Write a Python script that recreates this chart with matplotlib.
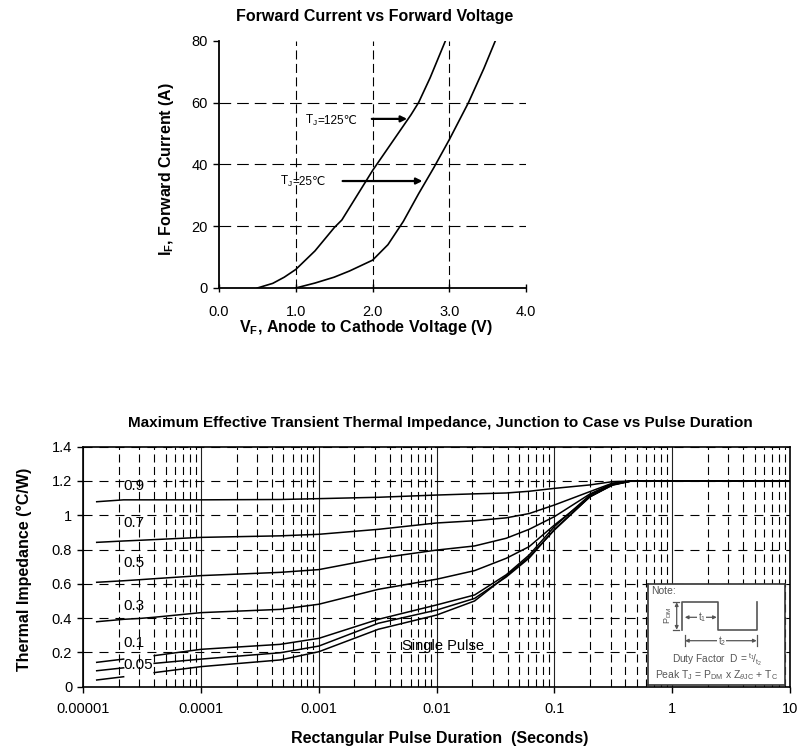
import numpy as np
import matplotlib
matplotlib.use('Agg')
import matplotlib.pyplot as plt
from matplotlib.ticker import FixedLocator, FixedFormatter, LogLocator, NullFormatter

plt.rcParams['font.family'] = ['Liberation Sans', 'DejaVu Sans']
plt.rcParams['mathtext.fontset'] = 'custom'
plt.rcParams['mathtext.rm'] = 'Liberation Sans'
plt.rcParams['mathtext.it'] = 'Liberation Sans:italic'
plt.rcParams['mathtext.bf'] = 'Liberation Sans:bold'
plt.rcParams['lines.scale_dashes'] = False

# ---------------- Top chart data: Forward current vs forward voltage ----------------
v_125 = [0.5, 0.7, 0.85, 1.0, 1.25, 1.5, 1.6, 1.75, 2.0, 2.25, 2.5, 2.6, 2.75, 2.95]
i_125 = [0, 1.5, 3.5, 6, 12, 19.5, 22, 28, 38, 47, 56, 60, 68, 80]
v_25 = [1.0, 1.25, 1.5, 1.7, 2.0, 2.2, 2.4, 2.6, 2.8, 3.0, 3.25, 3.45, 3.6]
i_25 = [0, 1.6, 3.5, 5.5, 9, 14, 21.5, 30.5, 39, 48, 60, 71, 80]
vf_ticks = [0, 1, 2, 3, 4]
vf_ticklabels = ['0.0', '1.0', '2.0', '3.0', '4.0']
if_ticks = [0, 20, 40, 60, 80]
temp_labels = ['=125℃', '=25℃']
text_pos = [(1.12, 53.2), (0.79, 33.3)]
arrows = [((1.99, 54.7), (2.45, 54.7)), ((1.61, 34.6), (2.65, 34.6))]

# ---------------- Bottom chart data: transient thermal impedance ----------------
pulse_t = [1.3e-5, 2.2e-5, 3e-5, 4e-5, 1e-4, 4.7e-4, 1e-3, 3.2e-3, 1e-2, 2.1e-2,
           3.9e-2, 6.1e-2, 0.1, 0.2, 0.31, 0.45, 1, 10]
z_d09 = [1.079, 1.09, 1.09, 1.09, 1.09, 1.092, 1.097, 1.105, 1.118, 1.125,
         1.13, 1.14, 1.157, 1.177, 1.196, 1.2, 1.2, 1.2]
z_d07 = [0.842, 0.85, 0.854, 0.858, 0.871, 0.88, 0.889, 0.918, 0.955, 0.968,
         0.985, 1.01, 1.06, 1.138, 1.187, 1.2, 1.2, 1.2]
z_d05 = [0.609, 0.618, 0.624, 0.63, 0.648, 0.667, 0.683, 0.749, 0.797, 0.821,
         0.866, 0.918, 0.992, 1.124, 1.185, 1.2, 1.2, 1.2]
z_d03 = [0.379, 0.393, 0.398, 0.405, 0.432, 0.451, 0.481, 0.568, 0.627, 0.677,
         0.749, 0.817, 0.943, 1.108, 1.178, 1.2, 1.2, 1.2]
z_d01 = [0.142, 0.161, np.nan, 0.181, 0.218, 0.247, 0.282, 0.393, 0.477, 0.535,
         0.653, 0.768, 0.934, 1.118, 1.18, 1.2, 1.2, 1.2]
z_d005 = [0.093, 0.11, np.nan, 0.136, 0.161, 0.198, 0.237, 0.37, 0.447, 0.515,
          0.64, 0.75, 0.918, 1.108, 1.178, 1.2, 1.2, 1.2]
z_single = [0.039, 0.058, np.nan, 0.082, 0.117, 0.156, 0.204, 0.335, 0.418, 0.50,
            0.646, 0.757, 0.914, 1.108, 1.175, 1.2, 1.2, 1.2]
duty_labels = ['0.9', '0.7', '0.5', '0.3', '0.1', '0.05']
duty_label_y = [1.17, 0.955, 0.724, 0.47, 0.253, 0.127]
duty_label_x = 2.2e-5
single_label = 'Single Pulse'
single_label_pos = (0.0051, 0.239)
t_ticks = [1e-5, 1e-4, 1e-3, 1e-2, 1e-1, 1, 10]
t_ticklabels = ['0.00001', '0.0001', '0.001', '0.01', '0.1', '1', '10']
z_ticks = [0, 0.2, 0.4, 0.6, 0.8, 1.0, 1.2, 1.4]
z_ticklabels = ['0', '0.2', '0.4', '0.6', '0.8', '1', '1.2', '1.4']

fig = plt.figure(figsize=(8, 7.49), dpi=100)
fig.patch.set_facecolor('white')

# ================= Top chart =================
ax1 = fig.add_axes([0.2738, 0.6155, 0.3838, 0.3302])
ax1.set_xlim(0, 4)
ax1.set_ylim(0, 80)
for v in vf_ticks[1:-1]:
    ax1.axvline(v, color='black', lw=0.8, ls=(0, (6.5, 3.2)), zorder=1)
for c in if_ticks[1:-1]:
    ax1.axhline(c, color='black', lw=0.8, ls=(0, (8.4, 4.3)), zorder=1)
ax1.plot(v_125, i_125, color='black', lw=1.2, zorder=3)
ax1.plot(v_25, i_25, color='black', lw=1.2, zorder=3)
ax1.set_xticks(vf_ticks)
ax1.set_xticklabels(vf_ticklabels)
ax1.set_yticks(if_ticks)
ax1.tick_params(axis='x', direction='inout', length=6, width=1, pad=9, labelsize=10.5)
ax1.tick_params(axis='y', direction='out', length=4, width=1, pad=4, labelsize=10.5)
for s in ['top', 'right']:
    ax1.spines[s].set_visible(False)
for s in ['left', 'bottom']:
    ax1.spines[s].set_linewidth(1.3)
for lab, (tx, ty) in zip(temp_labels, text_pos):
    t1 = ax1.text(tx, ty, 'T$_\\mathrm{J}$', fontsize=8.5, va='baseline', ha='left')
    ax1.annotate(lab, xy=(1.0, ty), xycoords=(t1, 'data'), fontsize=8.5,
                 va='baseline', ha='left')
for (start, end) in arrows:
    ax1.annotate('', xy=end, xytext=start,
                 arrowprops=dict(arrowstyle='-|>', color='black', lw=1.6,
                                 mutation_scale=9, shrinkA=0, shrinkB=0))
fig.text(0.468, 0.9786, 'Forward Current vs Forward Voltage', fontsize=11.5,
         fontweight='bold', ha='center', va='center')
fig.text(0.2084, 0.7744, r'$\mathbf{I_F}$, Forward Current (A)', fontsize=11.5,
         fontweight='bold', rotation=90, ha='center', va='center')
fig.text(0.458, 1 - 328 / 749, r'$\mathbf{V_F}$, Anode to Cathode Voltage (V)',
         fontsize=11.5, fontweight='bold', ha='center', va='center')

# ================= Bottom chart =================
ax2 = fig.add_axes([0.1041, 0.0832, 0.8834, 0.3204])
ax2.set_xscale('log')
ax2.set_xlim(1e-5, 10)
ax2.set_ylim(0, 1.4)
ax2.xaxis.set_major_locator(FixedLocator(t_ticks))
ax2.xaxis.set_major_formatter(FixedFormatter(t_ticklabels))
ax2.xaxis.set_minor_locator(LogLocator(base=10, subs=np.arange(2, 10), numticks=20))
ax2.xaxis.set_minor_formatter(NullFormatter())
ax2.set_yticks(z_ticks)
ax2.set_yticklabels(z_ticklabels)
ax2.grid(which='major', axis='x', color='#222222', lw=0.8, ls='-', zorder=1)
ax2.grid(which='minor', axis='x', color='black', lw=0.8, ls=(0, (5.8, 3.2)), zorder=1)
ax2.grid(which='major', axis='y', color='black', lw=0.8, ls=(0, (6.5, 5.0)), zorder=1)
ax2.set_axisbelow(True)
ax2.tick_params(axis='x', which='major', direction='out', length=4, width=1, pad=7, labelsize=10.5)
ax2.tick_params(axis='x', which='minor', length=0)
ax2.tick_params(axis='y', direction='out', length=4, width=1, pad=4, labelsize=10.5)
for s in ax2.spines.values():
    s.set_linewidth(1.2)

for series in [z_d09, z_d07, z_d05, z_d03, z_d01, z_d005, z_single]:
    ax2.plot(pulse_t, series, color='black', lw=1.1, zorder=3)
for lab, y in zip(duty_labels, duty_label_y):
    ax2.text(duty_label_x, y, lab, fontsize=11, ha='left', va='center', zorder=4)
ax2.text(single_label_pos[0], single_label_pos[1], single_label, fontsize=10.5,
         ha='left', va='center', zorder=4)

fig.text(0.551, 0.4349,
         'Maximum Effective Transient Thermal Impedance, Junction to Case vs Pulse Duration',
         fontsize=11, fontweight='bold', ha='center', va='center')
fig.text(0.03, 0.2403, 'Thermal Impedance (°C/W)', fontsize=11.5, fontweight='bold',
         rotation=90, ha='center', va='center')
fig.text(0.55, 1 - 738 / 749, 'Rectangular Pulse Duration  (Seconds)', fontsize=11.5,
         fontweight='bold', ha='center', va='center')

# ================= Note inset =================
gray = '#555555'
axn = fig.add_axes([648.3 / 800, 1 - 685.3 / 749, 136.7 / 800, 101.6 / 749])
axn.set_xlim(0, 136.7)
axn.set_ylim(101.6, 0)
axn.set_xticks([])
axn.set_yticks([])
axn.set_facecolor('white')
for s in axn.spines.values():
    s.set_linewidth(1.2)
    s.set_edgecolor('#333333')
axn.text(3, 2, 'Note:', fontsize=7.5, color=gray, ha='left', va='top')
axn.plot([33.4, 33.4, 70, 70, 109, 109], [46, 18.6, 18.6, 46, 46, 18.6], color=gray, lw=1.2)
axn.annotate('', xy=(28.4, 18.6), xytext=(28.4, 46),
             arrowprops=dict(arrowstyle='<|-|>', color=gray, lw=0.9, mutation_scale=5,
                             shrinkA=0, shrinkB=0))
axn.plot([25, 31], [18.6, 18.6], color=gray, lw=0.9)
axn.plot([25, 31], [46, 46], color=gray, lw=0.9)
axn.text(19.7, 32, 'P$_\\mathrm{DM}$', fontsize=6.5, color=gray, rotation=90,
         ha='center', va='center')
axn.annotate('', xy=(36.5, 33.6), xytext=(68.5, 33.6),
             arrowprops=dict(arrowstyle='<|-|>', color=gray, lw=0.9, mutation_scale=5,
                             shrinkA=0, shrinkB=0))
axn.text(53.4, 33.6, 't$_\\mathrm{1}$', fontsize=7, color=gray, ha='center', va='center',
         bbox=dict(facecolor='white', edgecolor='none', pad=0.3))
axn.annotate('', xy=(36.7, 57), xytext=(108.4, 57),
             arrowprops=dict(arrowstyle='<|-|>', color=gray, lw=0.9, mutation_scale=5,
                             shrinkA=0, shrinkB=0))
axn.plot([36.7, 36.7], [51, 62], color=gray, lw=0.9)
axn.plot([108.4, 108.4], [51, 62], color=gray, lw=0.9)
axn.text(73.4, 57, 't$_\\mathrm{2}$', fontsize=7, color=gray, ha='center', va='center',
         bbox=dict(facecolor='white', edgecolor='none', pad=0.3))
axn.text(68.4, 76, r'Duty Factor  D = $^{\mathrm{t_1}}\!/_{\mathrm{t_2}}$', fontsize=7.3,
         color=gray, ha='center', va='center')
axn.text(68.4, 91.6,
         r'Peak T$_\mathrm{J}$ = P$_\mathrm{DM}$ x Z$_{\theta\mathrm{JC}}$ + T$_\mathrm{C}$',
         fontsize=7.5, color=gray, ha='center', va='center')

fig.savefig('out.png', dpi=100, facecolor='white')
